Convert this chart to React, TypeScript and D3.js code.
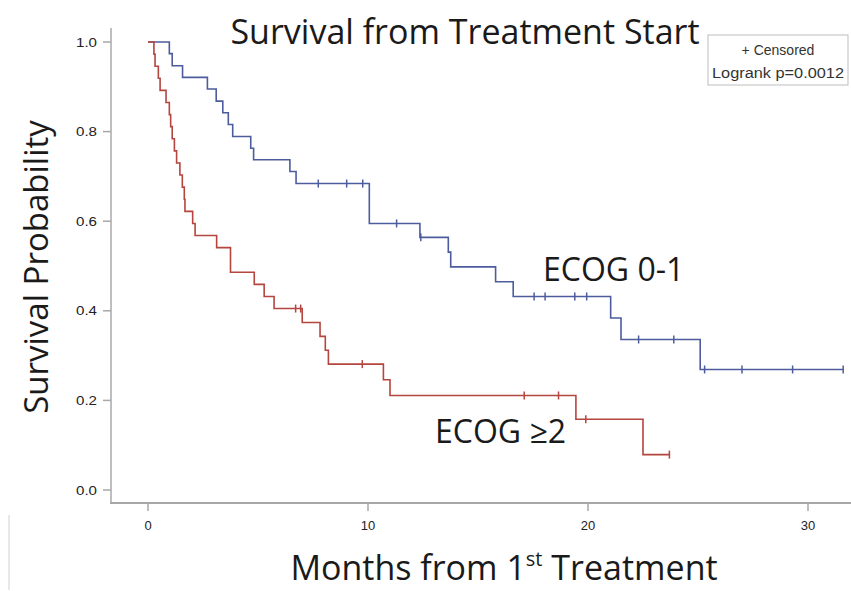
import React from "react";
import * as d3 from "d3";

// ECOG 0-1 (blue): event times (months) and survival after each event
const blueTimes = [0.97, 1.1, 1.57, 2.7, 3.1, 3.4, 3.65, 3.85, 4.67, 4.8, 6.45, 6.73, 10.06, 12.36, 13.65, 13.76, 15.8, 16.6, 21.03, 21.5, 25.1];
const blueSurv = [0.974, 0.947, 0.921, 0.895, 0.868, 0.842, 0.816, 0.789, 0.763, 0.737, 0.711, 0.684, 0.595, 0.564, 0.531, 0.498, 0.465, 0.432, 0.384, 0.336, 0.269];
const blueCensor = [7.74, 9.03, 9.76, 11.3, 12.4, 17.55, 18.05, 19.4, 19.94, 22.3, 23.9, 25.3, 27.0, 29.3, 31.6];
const blueEnd = 31.6;

// ECOG >=2 (red)
const redTimes = [0.27, 0.32, 0.47, 0.55, 0.82, 0.97, 1.03, 1.1, 1.2, 1.3, 1.45, 1.56, 1.65, 1.68, 2.03, 2.14, 3.12, 3.75, 4.83, 5.28, 5.73, 7.01, 7.82, 8.06, 8.2, 10.7, 11.0, 19.45, 22.5];
const redSurv = [0.973, 0.946, 0.919, 0.892, 0.865, 0.838, 0.811, 0.784, 0.757, 0.73, 0.703, 0.676, 0.649, 0.622, 0.595, 0.568, 0.541, 0.486, 0.459, 0.432, 0.405, 0.374, 0.343, 0.312, 0.281, 0.246, 0.211, 0.158, 0.079];
const redCensor = [6.71, 6.94, 9.74, 17.1, 18.66, 19.9, 23.7];
const redEnd = 23.7;

const xTicks = [0, 10, 20, 30];
const yTicks = [0, 0.2, 0.4, 0.6, 0.8, 1.0];

const BLUE = "#4d5c9c";
const RED = "#b4453f";
const AXIS = "#a8a8a8";

function buildPoints(times: number[], surv: number[], end: number): [number, number][] {
  const pts: [number, number][] = [[0, 1]];
  times.forEach((t, i) => pts.push([t, surv[i]]));
  pts.push([end, surv[surv.length - 1]]);
  return pts;
}

function survAt(times: number[], surv: number[], t: number) {
  let s = 1;
  for (let i = 0; i < times.length; i++) if (times[i] <= t) s = surv[i];
  return s;
}

export default function App() {
  const x = d3.scaleLinear().domain([0, 30]).range([148, 808]);
  const y = d3.scaleLinear().domain([0, 1]).range([490, 42]);
  const line = d3
    .line<[number, number]>()
    .x((d) => x(d[0]))
    .y((d) => y(d[1]))
    .curve(d3.curveStepAfter);

  const bluePts = buildPoints(blueTimes, blueSurv, blueEnd);
  const redPts = buildPoints(redTimes, redSurv, redEnd);

  const tickFont = "Liberation Sans, Arial, sans-serif";
  const bigFont = "Open Sans, Noto Sans, sans-serif";

  return (
    <svg
      width={851}
      height={591}
      style={{ position: "absolute", left: 0, top: 0, background: "#fff" }}
    >
      <rect x={0} y={0} width={851} height={591} fill="#fff" />
      {/* faint artifact line */}
      <line x1={9} x2={9} y1={515} y2={590} stroke="#d0d0d0" strokeWidth={1} />

      {/* axes */}
      <line x1={111} x2={111} y1={28} y2={503} stroke={AXIS} strokeWidth={1.5} />
      <line x1={110} x2={851} y1={503} y2={503} stroke={AXIS} strokeWidth={2} />
      {yTicks.map((t) => (
        <g key={"y" + t}>
          <line x1={103} x2={111} y1={y(t)} y2={y(t)} stroke={AXIS} strokeWidth={1.5} />
          <text
            x={97}
            y={y(t) + 4.5}
            textAnchor="end"
            fontFamily={tickFont}
            fontSize={13}
            fill="#222"
            textLength={21}
            lengthAdjust="spacingAndGlyphs"
          >
            {t.toFixed(1)}
          </text>
        </g>
      ))}
      {xTicks.map((t) => (
        <g key={"x" + t}>
          <line x1={x(t)} x2={x(t)} y1={503} y2={511} stroke={AXIS} strokeWidth={1.5} />
          <text
            x={x(t)}
            y={530}
            textAnchor="middle"
            fontFamily={tickFont}
            fontSize={13}
            fill="#222"
          >
            {t}
          </text>
        </g>
      ))}

      {/* curves */}
      <path d={line(bluePts) || ""} fill="none" stroke={BLUE} strokeWidth={1.6} />
      <path d={line(redPts) || ""} fill="none" stroke={RED} strokeWidth={1.6} />
      {blueCensor.map((t, i) => {
        const s = survAt(blueTimes, blueSurv, t);
        return <line key={"bc" + i} x1={x(t)} x2={x(t)} y1={y(s) - 4} y2={y(s) + 4} stroke={BLUE} strokeWidth={1.5} />;
      })}
      {redCensor.map((t, i) => {
        const s = survAt(redTimes, redSurv, t);
        return <line key={"rc" + i} x1={x(t)} x2={x(t)} y1={y(s) - 4} y2={y(s) + 4} stroke={RED} strokeWidth={1.5} />;
      })}

      {/* curve labels */}
      <text x={543} y={281} fontFamily={bigFont} fontSize={32} fill="#1a1a1a">
        ECOG 0-1
      </text>
      <text x={435} y={443} fontFamily={bigFont} fontSize={32} fill="#1a1a1a">
        ECOG ≥2
      </text>

      {/* title */}
      <text x={465} y={44} textAnchor="middle" fontFamily={bigFont} fontSize={34} fill="#1a1a1a">
        Survival from Treatment Start
      </text>

      {/* y title */}
      <text
        transform="translate(48,267) rotate(-90)"
        textAnchor="middle"
        fontFamily={bigFont}
        fontSize={33}
        fill="#1a1a1a"
      >
        Survival Probability
      </text>

      {/* x title */}
      <text x={504} y={580} textAnchor="middle" fontFamily={bigFont} fontSize={34} fill="#1a1a1a">
        Months from 1<tspan fontSize={20} dy={-14}>st</tspan>
        <tspan dy={14}> Treatment</tspan>
      </text>

      {/* legend box */}
      <rect x={708} y={35} width={140} height={50} fill="#fff" stroke="#bdbdbd" strokeWidth={1} />
      <text x={778} y={55} textAnchor="middle" fontFamily={tickFont} fontSize={14} fill="#333">
        + Censored
      </text>
      <text
        x={778}
        y={78}
        textAnchor="middle"
        fontFamily={tickFont}
        fontSize={14}
        fill="#333"
        textLength={132}
        lengthAdjust="spacingAndGlyphs"
      >
        Logrank p=0.0012
      </text>
    </svg>
  );
}
